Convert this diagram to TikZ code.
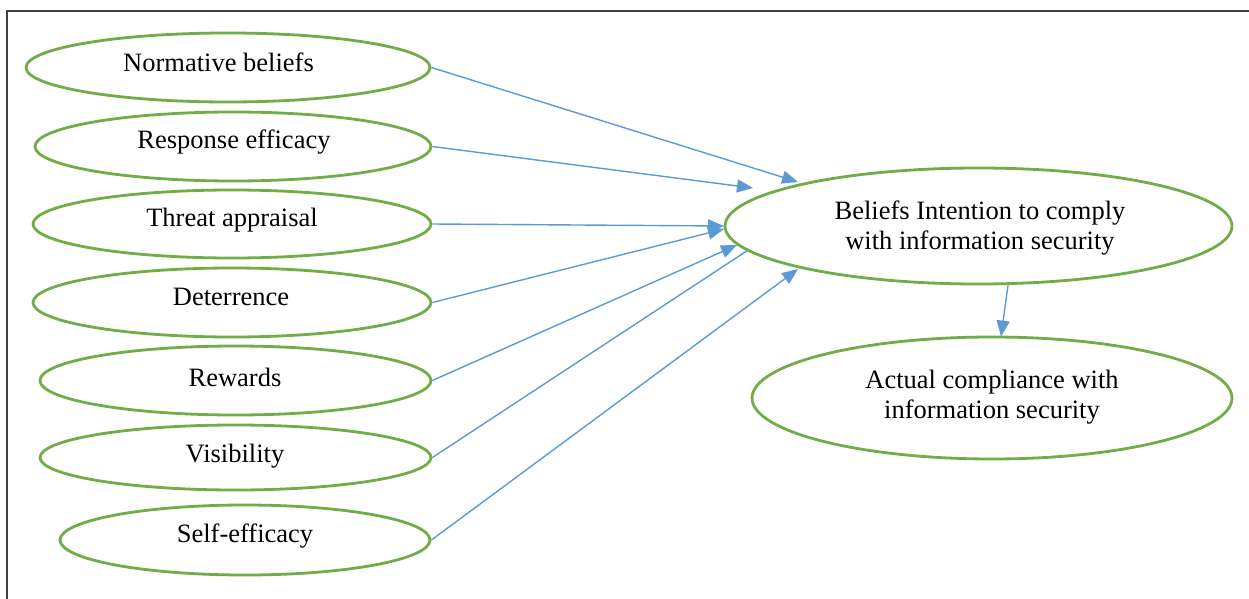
\documentclass[tikz,border=0pt]{standalone}
\usepackage{fontspec}
\setmainfont{Liberation Serif}
\usetikzlibrary{shapes.geometric,arrows.meta,backgrounds}
\definecolor{ovalgreen}{HTML}{70AD47}
\definecolor{linkblue}{HTML}{5B9BD5}
\definecolor{framegray}{HTML}{404040}
\begin{document}
\begin{tikzpicture}[x=1pt,y=-1pt,
  oval/.style={ellipse,draw=ovalgreen,line width=2.8pt,fill=white,inner sep=0pt},
  lbl/.style={font=\fontsize{26.5}{30.5}\selectfont,inner sep=0pt,anchor=base},
  txt/.style={font=\fontsize{26.5}{30.5}\selectfont,align=center,inner sep=0pt},
  link/.style={draw=linkblue,line width=1.4pt,-{Triangle[length=16pt,width=13pt]}}]
\useasboundingbox (0,0) rectangle (1249,599);

% frame
\draw[framegray,line width=2pt] (7,599) -- (7,11) -- (1249,11);

% determinants
\node[oval,minimum width=404pt,minimum height=69pt] (nb) at (228,67.5) {};
\node[lbl] (nbt) at (218.5,72) {Normative beliefs};
\node[oval,minimum width=396pt,minimum height=69pt] (re) at (233,146.5) {};
\node[lbl] (ret) at (234,148) {Response efficacy};
\node[oval,minimum width=398pt,minimum height=68pt] (ta) at (232,224) {};
\node[lbl] (tat) at (232,226) {Threat appraisal};
\node[oval,minimum width=398pt,minimum height=69pt] (de) at (232,302.5) {};
\node[lbl] (det) at (231,305) {Deterrence};
\node[oval,minimum width=391pt,minimum height=69pt] (rw) at (235.5,380.5) {};
\node[lbl] (rwt) at (235,386) {Rewards};
\node[oval,minimum width=391pt,minimum height=65pt] (vi) at (235.5,457.5) {};
\node[lbl] (vit) at (235,462) {Visibility};
\node[oval,minimum width=370pt,minimum height=70pt] (se) at (245,540) {};
\node[lbl] (set) at (245,542) {Self-efficacy};

% outcomes
\node[oval,minimum width=507pt,minimum height=116pt] (bi) at (978.5,226) {};
\node[txt] (bit) at (980,228) {Beliefs Intention to comply\\with information security};
\node[oval,minimum width=480pt,minimum height=122pt] (ac) at (992,398) {};
\node[txt] (act) at (992,397) {Actual compliance with\\information security};

% arrow tips
\coordinate (tnb) at (798,182);
\coordinate (tre) at (753,188);
\coordinate (tta) at (724,226);
\coordinate (tde) at (724,229);
\coordinate (trw) at (737,245);
\coordinate (tvi) at (768,237);
\coordinate (tse) at (798,269);

\begin{scope}[on background layer]
  \draw[link] (nb.east) -- (tnb);
  \draw[link] (re.east) -- (tre);
  \draw[link] (ta.east) -- (tta);
  \draw[link] (de.east) -- (tde);
  \draw[link] (rw.east) -- (trw);
  \draw[link] (vi.east) -- (tvi);
  \draw[link] (se.east) -- (tse);
  \draw[link] ([xshift=29.5pt]bi.south) -- ([xshift=9pt,yshift=-1pt]ac.north);
\end{scope}
\end{tikzpicture}
\end{document}
